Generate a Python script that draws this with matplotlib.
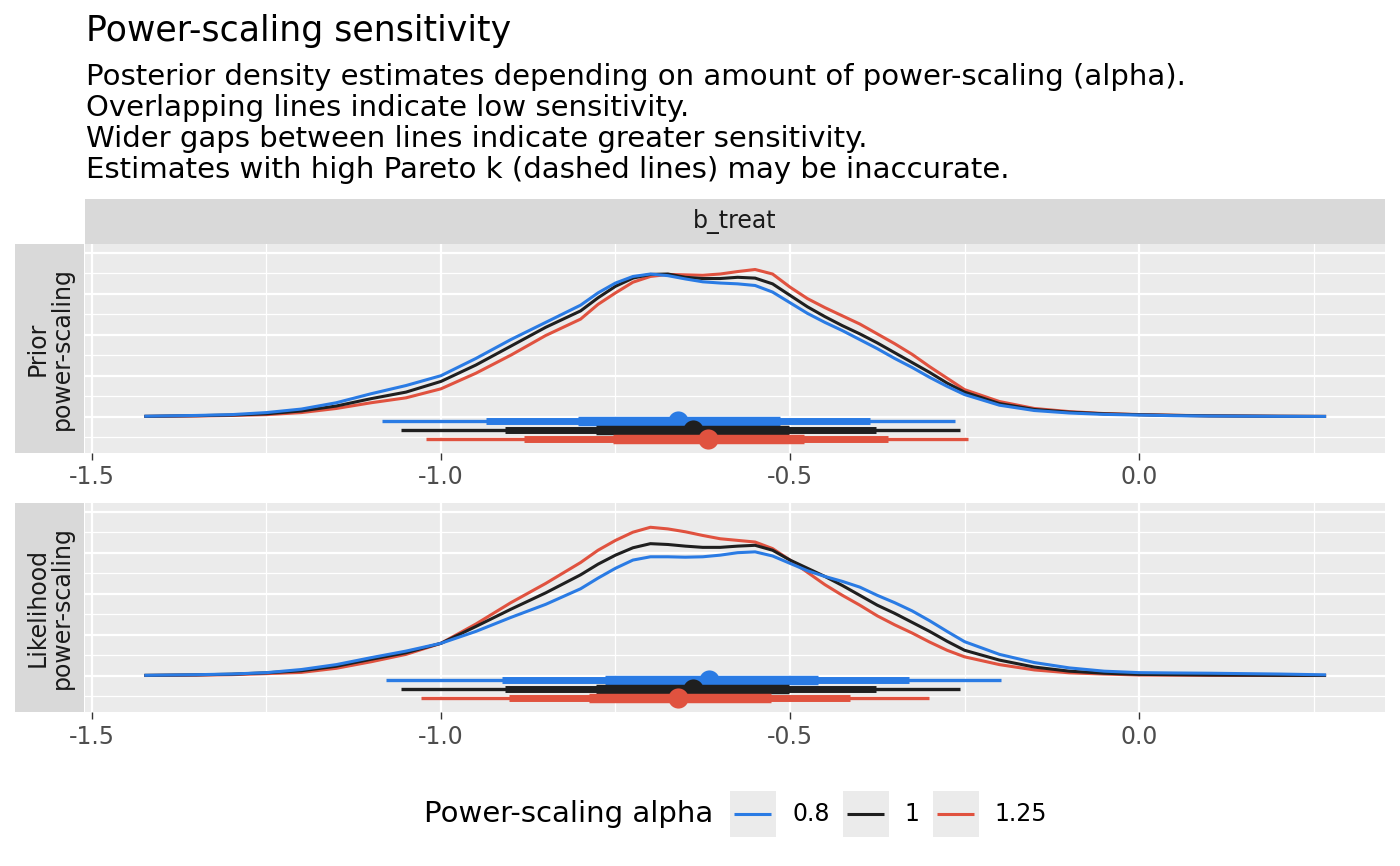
import matplotlib
matplotlib.use('Agg')
import matplotlib.pyplot as plt
from matplotlib.patches import Rectangle
from matplotlib.lines import Line2D

plt.rcParams['font.family'] = ['DejaVu Sans']
plt.rcParams['axes.unicode_minus'] = False

# ---- data ----
alphas = ['0.8', '1', '1.25']
colors = ['#2A7BE4', '#1F1F1F', '#E0523F']

x_grid = [-1.425, -1.35, -1.3, -1.25, -1.2, -1.15, -1.1, -1.05, -1.0, -0.95,
          -0.9, -0.85, -0.8, -0.775, -0.75, -0.725, -0.7, -0.675, -0.65, -0.625,
          -0.6, -0.575, -0.55, -0.525, -0.5, -0.475, -0.45, -0.425, -0.4, -0.375,
          -0.35, -0.325, -0.3, -0.275, -0.25, -0.2, -0.15, -0.1, -0.05, 0.0,
          0.05, 0.1, 0.2, 0.268]

# prior power-scaling densities
prior_a08 = [0.005, 0.015, 0.025, 0.05, 0.093, 0.17, 0.28, 0.38, 0.50, 0.71,
             0.94, 1.15, 1.36, 1.51, 1.63, 1.71, 1.74, 1.72, 1.68, 1.645,
             1.63, 1.62, 1.60, 1.52, 1.39, 1.26, 1.15, 1.05, 0.94, 0.83,
             0.71, 0.60, 0.48, 0.37, 0.27, 0.14, 0.075, 0.045, 0.028, 0.02,
             0.012, 0.008, 0.004, 0.003]
prior_a1 = [0.004, 0.012, 0.02, 0.035, 0.07, 0.13, 0.22, 0.30, 0.43, 0.63,
            0.86, 1.09, 1.29, 1.45, 1.59, 1.69, 1.735, 1.74, 1.70, 1.685,
            1.685, 1.70, 1.69, 1.62, 1.48, 1.34, 1.22, 1.11, 1.01, 0.90,
            0.78, 0.66, 0.54, 0.41, 0.30, 0.16, 0.088, 0.055, 0.035, 0.024,
            0.016, 0.01, 0.005, 0.003]
prior_a125 = [0.003, 0.008, 0.015, 0.025, 0.05, 0.10, 0.17, 0.23, 0.34, 0.53,
              0.75, 0.99, 1.19, 1.37, 1.51, 1.64, 1.71, 1.735, 1.73, 1.725,
              1.74, 1.77, 1.795, 1.74, 1.58, 1.44, 1.33, 1.23, 1.13, 1.01,
              0.89, 0.76, 0.61, 0.47, 0.33, 0.185, 0.10, 0.062, 0.038, 0.026,
              0.017, 0.011, 0.005, 0.003]

# likelihood power-scaling densities
lik_a08 = [0.004, 0.012, 0.02, 0.037, 0.075, 0.135, 0.22, 0.30, 0.395, 0.54,
           0.71, 0.87, 1.06, 1.19, 1.31, 1.41, 1.45, 1.45, 1.445, 1.45,
           1.47, 1.50, 1.51, 1.46, 1.37, 1.28, 1.21, 1.15, 1.08, 0.98,
           0.89, 0.79, 0.67, 0.54, 0.415, 0.26, 0.16, 0.095, 0.055, 0.037,
           0.033, 0.03, 0.02, 0.01]
lik_a1 = [0.004, 0.01, 0.018, 0.035, 0.06, 0.115, 0.20, 0.28, 0.395, 0.60,
          0.81, 1.01, 1.23, 1.36, 1.47, 1.56, 1.61, 1.60, 1.58, 1.565,
          1.565, 1.58, 1.59, 1.53, 1.41, 1.31, 1.21, 1.10, 0.98, 0.86,
          0.76, 0.65, 0.54, 0.42, 0.31, 0.19, 0.105, 0.055, 0.03, 0.016,
          0.012, 0.008, 0.004, 0.003]
lik_a125 = [0.002, 0.006, 0.012, 0.025, 0.04, 0.09, 0.17, 0.26, 0.395, 0.63,
            0.89, 1.125, 1.38, 1.53, 1.65, 1.75, 1.81, 1.79, 1.755, 1.71,
            1.67, 1.65, 1.63, 1.55, 1.41, 1.26, 1.11, 0.98, 0.86, 0.73,
            0.62, 0.52, 0.41, 0.31, 0.23, 0.135, 0.07, 0.035, 0.02, 0.008,
            0.006, 0.004, 0.002, 0.002]

# point intervals (median, inner, middle, outer), one value per alpha
prior_point = [-0.661, -0.639, -0.617]
prior_in_lo = [-0.804, -0.778, -0.753]
prior_in_hi = [-0.514, -0.501, -0.480]
prior_mid_lo = [-0.936, -0.908, -0.881]
prior_mid_hi = [-0.385, -0.377, -0.360]
prior_out_lo = [-1.084, -1.058, -1.022]
prior_out_hi = [-0.263, -0.256, -0.245]

lik_point = [-0.616, -0.639, -0.660]
lik_in_lo = [-0.765, -0.778, -0.788]
lik_in_hi = [-0.460, -0.501, -0.527]
lik_mid_lo = [-0.913, -0.908, -0.903]
lik_mid_hi = [-0.329, -0.377, -0.414]
lik_out_lo = [-1.079, -1.058, -1.029]
lik_out_hi = [-0.198, -0.256, -0.301]

panels = [
    ('Prior\npower-scaling', [prior_a08, prior_a1, prior_a125],
     [prior_point, prior_in_lo, prior_in_hi, prior_mid_lo, prior_mid_hi, prior_out_lo, prior_out_hi]),
    ('Likelihood\npower-scaling', [lik_a08, lik_a1, lik_a125],
     [lik_point, lik_in_lo, lik_in_hi, lik_mid_lo, lik_mid_hi, lik_out_lo, lik_out_hi]),
]

# ---- layout ----
W, H = 1400, 866
fig = plt.figure(figsize=(W / 100, H / 100), dpi=100)


def box(x0, y0, x1, y1):
    return [x0 / W, 1 - y1 / H, (x1 - x0) / W, (y1 - y0) / H]


dodge = [-0.05, -0.16, -0.27]
panel_rows = [(244, 453), (503, 712)]

for (label, dens, iv), (top, bottom) in zip(panels, panel_rows):
    ax = fig.add_axes(box(85, top, 1385, bottom))
    ax.set_facecolor('#EBEBEB')
    for s in ax.spines.values():
        s.set_visible(False)
    ax.set_xlim(-1.510, 0.3524)
    ax.set_ylim(-0.443, 2.106)
    ax.set_xticks([-1.5, -1.0, -0.5, 0.0])
    ax.set_xticklabels(['-1.5', '-1.0', '-0.5', '0.0'])
    ax.set_xticks([-1.25, -0.75, -0.25, 0.25], minor=True)
    ax.set_yticks([0, 0.5, 1.0, 1.5, 2.0])
    ax.set_yticks([-0.25, 0.25, 0.75, 1.25, 1.75], minor=True)
    ax.grid(which='major', color='white', lw=1.6)
    ax.grid(which='minor', color='white', lw=0.9)
    ax.set_axisbelow(True)
    ax.tick_params(axis='x', which='major', length=5, width=1, color='#333333',
                   labelsize=17, labelcolor='#4D4D4D', pad=4)
    ax.tick_params(axis='x', which='minor', length=0)
    ax.tick_params(axis='y', which='both', length=0, labelleft=False)

    # densities, 0.8 drawn last so it sits on top
    for y, c in reversed(list(zip(dens, colors))):
        ax.plot(x_grid, y, color=c, lw=2.2, solid_capstyle='butt', solid_joinstyle='round')

    point, in_lo, in_hi, mid_lo, mid_hi, out_lo, out_hi = iv
    for i, c in enumerate(colors):
        yy = dodge[i]
        ax.plot([out_lo[i], out_hi[i]], [yy, yy], color=c, lw=2.4, solid_capstyle='butt')
        ax.plot([mid_lo[i], mid_hi[i]], [yy, yy], color=c, lw=5.0, solid_capstyle='butt')
        ax.plot([in_lo[i], in_hi[i]], [yy, yy], color=c, lw=6.8, solid_capstyle='butt')
        ax.plot([point[i]], [yy], 'o', color=c, ms=14.5, mec='none')

    # row strip on the left
    sax = fig.add_axes(box(15, top, 84, bottom))
    sax.set_facecolor('#D9D9D9')
    sax.set_xticks([])
    sax.set_yticks([])
    for s in sax.spines.values():
        s.set_visible(False)
    sax.text(0.5, 0.5, label, rotation=90, ha='center', va='center', multialignment='center',
             fontsize=17, color='#1A1A1A', linespacing=1.0, transform=sax.transAxes)

# column strip
tax = fig.add_axes(box(85, 199, 1385, 244))
tax.set_facecolor('#D9D9D9')
tax.set_xticks([])
tax.set_yticks([])
for s in tax.spines.values():
    s.set_visible(False)
tax.text(0.5, 0.5, 'b_treat', ha='center', va='center', fontsize=17, color='#1A1A1A',
         transform=tax.transAxes)

# titles
fig.text(86 / W, 1 - 41 / H, 'Power-scaling sensitivity', fontsize=25, va='baseline')
subtitle = ['Posterior density estimates depending on amount of power-scaling (alpha).',
            'Overlapping lines indicate low sensitivity.',
            'Wider gaps between lines indicate greater sensitivity.',
            'Estimates with high Pareto k (dashed lines) may be inaccurate.']
for k, line in enumerate(subtitle):
    fig.text(86 / W, 1 - (85 + 31 * k) / H, line, fontsize=21, va='baseline')

# legend at the bottom
fig.text(424 / W, 1 - 814 / H, 'Power-scaling alpha', fontsize=21, va='center')
key_x = [730, 843, 933]
lab_x = [792, 904, 994]
for kx, lx, c, a in zip(key_x, lab_x, colors, alphas):
    fig.add_artist(Rectangle((kx / W, 1 - 837 / H), 46 / W, 46 / H, transform=fig.transFigure,
                             facecolor='#EBEBEB', edgecolor='none'))
    fig.add_artist(Line2D([(kx + 4) / W, (kx + 41) / W], [1 - 814 / H, 1 - 814 / H],
                          transform=fig.transFigure, color=c, lw=2.2, solid_capstyle='butt'))
    fig.text(lx / W, 1 - 814 / H, a, fontsize=17, va='center')

fig.savefig('out.png', dpi=100)
